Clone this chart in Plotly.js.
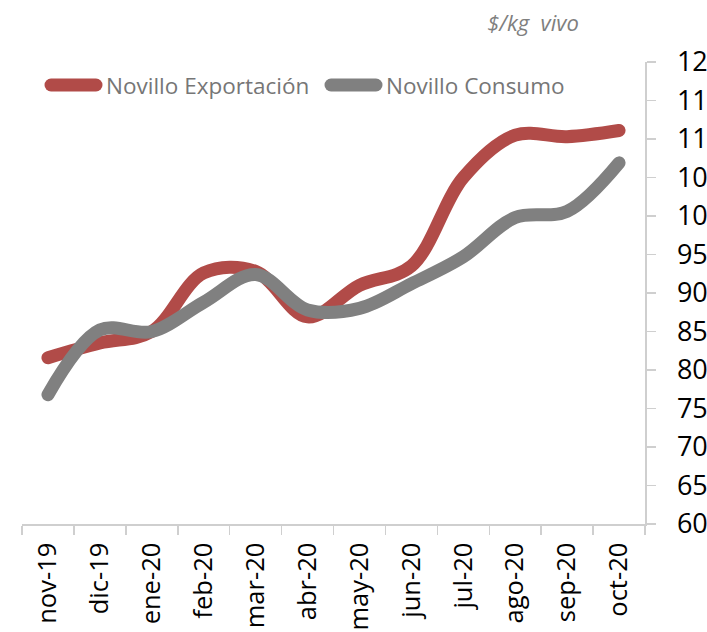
<!DOCTYPE html>
<html>
<head>
<meta charset="utf-8">
<script src="https://cdn.plot.ly/plotly-3.0.1.min.js"></script>
<style>html,body{margin:0;padding:0;background:#fff;overflow:hidden;}#chart{width:707px;height:632px;}</style>
</head>
<body>
<div id="chart"></div>
<script>
// ---- data ----
const categories = ["nov-19","dic-19","ene-20","feb-20","mar-20","abr-20","may-20","jun-20","jul-20","ago-20","sep-20","oct-20"];
const exportacion = [81.6, 83.5, 85.0, 92.6, 92.8, 86.9, 91.0, 93.5, 105.0, 110.5, 110.3, 111.1];
const consumo = [76.8, 85.2, 85.0, 88.8, 92.4, 87.8, 88.0, 91.2, 94.7, 99.8, 100.6, 106.9];
const seriesNames = ["Novillo Exportación", "Novillo Consumo"];
const yTicks = [60,65,70,75,80,85,90,95,100,105,110,115,120];
const unitLabel = "$/kg  vivo";

// ---- style ----
const W = 707, H = 632;
const M = {l: 22, r: 62, t: 62, b: 108};
const RED = "#b14b48", GRAY = "#808080";
const FONT = "Open Sans";
const px2x = px => (px - M.l) / (W - M.l - M.r);
const py2y = py => (H - M.b - py) / (H - M.t - M.b);

const traces = [
  {x: categories, y: exportacion, name: seriesNames[0], type: "scatter", mode: "lines",
   line: {color: RED, width: 13, shape: "spline", smoothing: 1}, showlegend: false, cliponaxis: false},
  {x: categories, y: consumo, name: seriesNames[1], type: "scatter", mode: "lines",
   line: {color: GRAY, width: 13, shape: "spline", smoothing: 1}, showlegend: false, cliponaxis: false}
];

const legY = py2y(85);
const layout = {
  width: W, height: H,
  margin: M,
  paper_bgcolor: "#fff", plot_bgcolor: "#fff",
  font: {family: FONT, color: "#000"},
  title: {text: "<i>" + unitLabel + "</i>", x: 533 / W, xanchor: "center", y: 1 - 23 / H, yanchor: "middle",
          xref: "container", yref: "container", font: {family: FONT, size: 22, color: "#7f7f7f"}},
  xaxis: {type: "category", range: [-0.5, categories.length - 0.5], showgrid: false, zeroline: false,
          showline: true, linecolor: "#cfcfcf", linewidth: 1.5,
          ticks: "outside", tickson: "boundaries", ticklen: 9, tickcolor: "#cfcfcf", tickwidth: 1.5,
          tickangle: -90, tickfont: {family: FONT, size: 25.5, color: "#000"}, ticklabelstandoff: 7},
  yaxis: {side: "right", range: [60, 120], tickvals: yTicks, ticktext: yTicks.map(String),
          showgrid: false, zeroline: false, showline: true, linecolor: "#cfcfcf", linewidth: 1.5,
          ticks: "outside", ticklen: 9, tickcolor: "#cfcfcf", tickwidth: 1.5,
          tickfont: {family: FONT, size: 27, color: "#000"}, ticklabelstandoff: 16},
  shapes: [
    {type: "line", xref: "paper", yref: "paper", x0: px2x(51), x1: px2x(96), y0: legY, y1: legY,
     line: {color: RED, width: 13}},
    {type: "line", xref: "paper", yref: "paper", x0: px2x(331), x1: px2x(376), y0: legY, y1: legY,
     line: {color: GRAY, width: 13}}
  ],
  annotations: [
    {text: seriesNames[0], xref: "paper", yref: "paper", x: px2x(104), y: legY, xanchor: "left", yanchor: "middle",
     showarrow: false, font: {family: FONT, size: 22.5, color: "#767676"}},
    {text: seriesNames[1], xref: "paper", yref: "paper", x: px2x(384), y: legY, xanchor: "left", yanchor: "middle",
     showarrow: false, font: {family: FONT, size: 22.5, color: "#767676"}}
  ]
};

Plotly.newPlot("chart", traces, layout, {staticPlot: true, displayModeBar: false}).then(gd => {
  gd.querySelectorAll(".scatterlayer path.js-line, .shapelayer path").forEach(p => {
    p.style.strokeLinecap = "round";
    p.style.strokeLinejoin = "round";
  });
});
</script>
</body>
</html>
